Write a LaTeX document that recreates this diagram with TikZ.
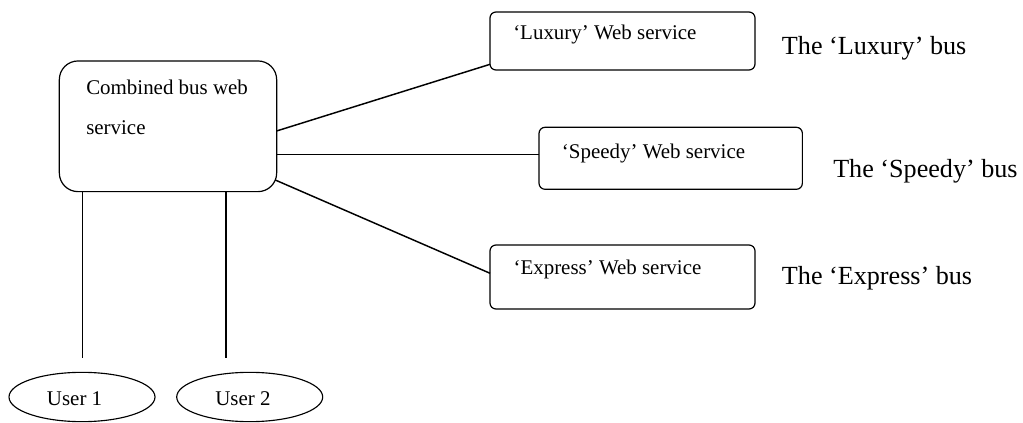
\documentclass[tikz,border=0pt]{standalone}
\usepackage{fontspec}
\setmainfont{Liberation Serif}
\usetikzlibrary{shapes.geometric}
\tikzset{
  every picture/.style={x=0.75pt,y=-0.75pt},
  boxshape/.style={draw,line width=0.9pt,rounded corners=4.5pt,inner sep=0pt,outer sep=0pt},
  mainshape/.style={draw,line width=0.9pt,rounded corners=14pt,inner sep=0pt,outer sep=0pt,
     minimum width=163pt,minimum height=98pt},
  usershape/.style={draw,ellipse,line width=0.85pt,inner sep=0pt,outer sep=0pt,
     minimum width=109.5pt,minimum height=37pt},
  smalltext/.style={anchor=base west,inner sep=0pt,font=\fontsize{15.7pt}{18pt}\selectfont},
  bigtext/.style={anchor=base west,inner sep=0pt,font=\fontsize{19.6pt}{22pt}\selectfont},
  conn/.style={line width=1.1pt}
}
\begin{document}
\begin{tikzpicture}
\useasboundingbox (0,0) rectangle (1023,423);
% boxes
\node[mainshape] (main) at (168,126.3) {};
\node[boxshape,minimum width=198.75pt,minimum height=43.5pt] (lux) at (622.5,41) {};
\node[boxshape,minimum width=197.5pt,minimum height=46.5pt] (spd) at (670.7,158.3) {};
\node[boxshape,minimum width=198.75pt,minimum height=48pt] (exp) at (622.5,277) {};
\node[usershape] (u1) at (82,397) {};
\node[usershape] (u2) at (249.7,397) {};
% texts
\node[smalltext] (mt1) at (86,95) {Combined bus web};
\node[smalltext] (mt2) at (86,135) {service};
\node[smalltext] (luxt) at (513,40) {‘Luxury’ Web service};
\node[smalltext] (spdt) at (561.7,158.3) {‘Speedy’ Web service};
\node[smalltext] (expt) at (513.3,274.3) {‘Express’ Web service};
\node[bigtext] (luxb) at (781.7,55) {The ‘Luxury’ bus};
\node[bigtext] (spdb) at (833,178) {The ‘Speedy’ bus};
\node[bigtext] (expb) at (781.7,285) {The ‘Express’ bus};
\node[smalltext] (u1t) at (46.7,405) {User 1};
\node[smalltext] (u2t) at (215,405) {User 2};
% connectors
\draw[conn] ([yshift=-3.5pt]main.east) -- ([yshift=-17.5pt]lux.west);
\coordinate (s1) at ([yshift=-21pt]main.east);
\draw[conn] (s1) -- (s1 -| spd.west);
\draw[conn] ([yshift=-40.3pt,xshift=-1pt]main.east) -- ([yshift=2.8pt]exp.west);
\coordinate (v1) at ([xshift=-64.3pt]main.south);
\coordinate (v2) at ([xshift=43.5pt]main.south);
\draw[conn] (v1) -- ++(0,166.6);
\draw[conn] (v2) -- ++(0,166.6);
\end{tikzpicture}
\end{document}
